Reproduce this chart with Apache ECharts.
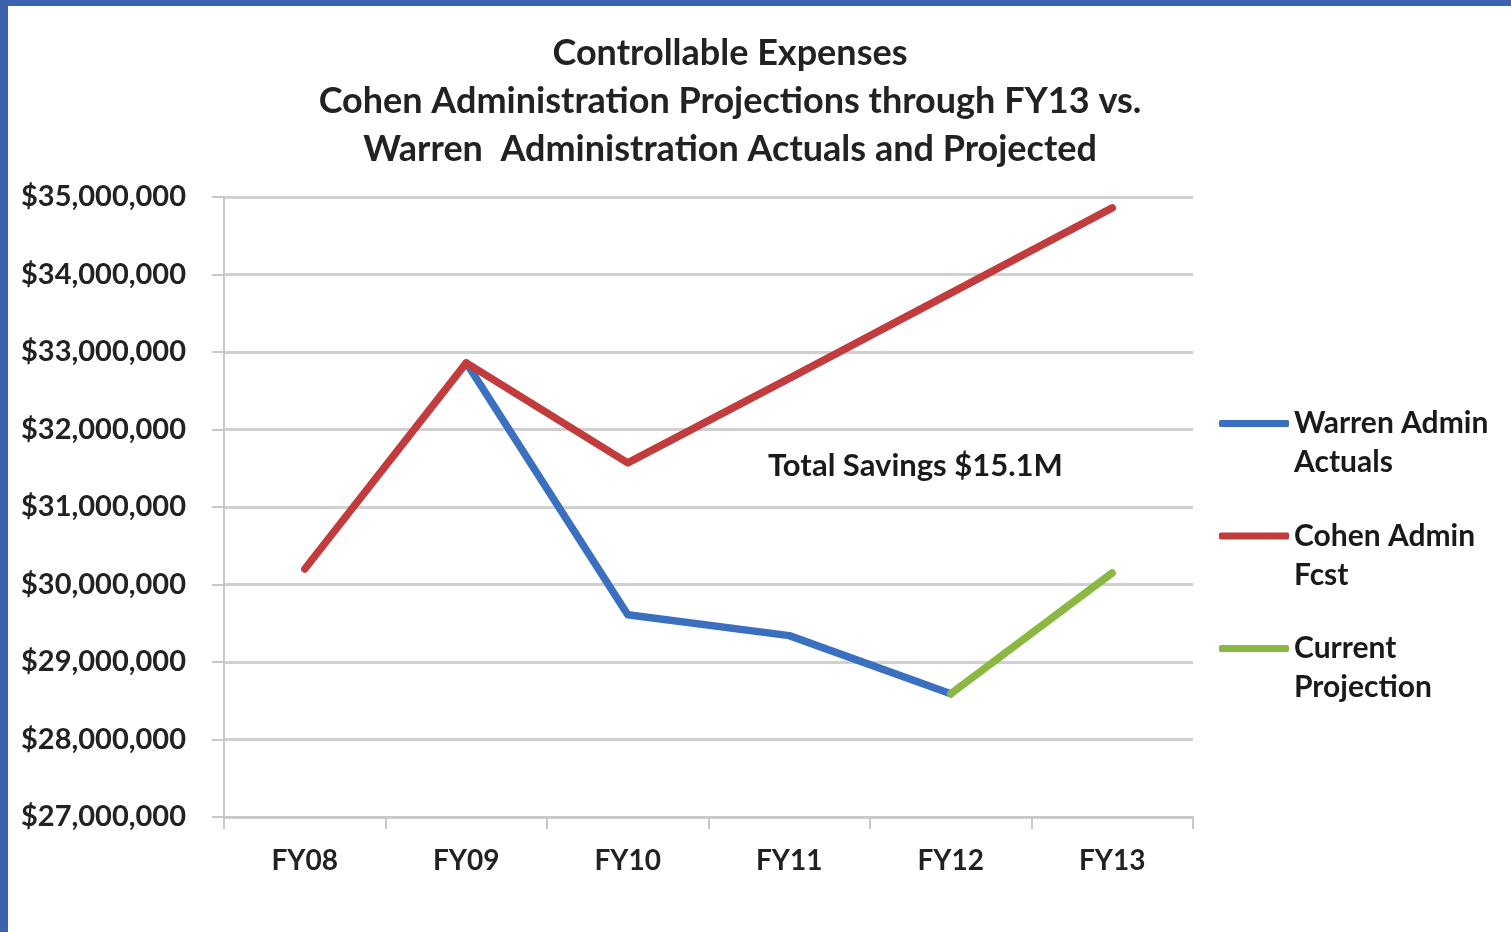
<!DOCTYPE html>
<html>
<head>
<meta charset="utf-8">
<script src="https://cdn.jsdelivr.net/npm/echarts@6/dist/echarts.min.js"></script>
<style>
  html, body { margin: 0; padding: 0; width: 1511px; height: 932px; overflow: hidden; background: #3a62ad; }
  #chart { position: absolute; left: 8px; top: 6px; width: 1503px; height: 926px; background: #ffffff; }
</style>
</head>
<body>
<div id="chart"></div>
<script>
const categories = ['FY08', 'FY09', 'FY10', 'FY11', 'FY12', 'FY13'];
const warrenActuals = [null, 32860000, 29610000, 29340000, 28590000, null];
const cohenFcst = [30200000, 32860000, 31570000, 32660000, 33760000, 34860000];
const currentProjection = [null, null, null, null, 28590000, 30150000];
const seriesNames = ['Warren Admin\nActuals', 'Cohen Admin\nFcst', 'Current\nProjection'];
const titleText = 'Controllable Expenses\nCohen Administration Projections through FY13 vs.\nWarren  Administration Actuals and Projected';
const annotationText = 'Total Savings $15.1M';
const yMin = 27000000, yMax = 35000000, yStep = 1000000;

const FONT = 'Lato';
const chart = echarts.init(document.getElementById('chart'));
const fmt = v => '$' + v.toLocaleString('en-US');

function lineSeries(name, data, color) {
  return {
    name: name, type: 'line', data: data, symbol: 'none', showSymbol: false,
    connectNulls: false,
    lineStyle: { color: color, width: 7.5, cap: 'round', join: 'round' },
    itemStyle: { color: color },
    emphasis: { disabled: true }
  };
}

chart.setOption({
  animation: false,
  backgroundColor: '#ffffff',
  title: {
    text: titleText,
    left: 717, top: 18,
    textAlign: 'center',
    textStyle: { fontFamily: FONT, fontWeight: 'bold', fontSize: 36, lineHeight: 48, color: '#222222' }
  },
  legend: {
    orient: 'vertical',
    left: 1206, top: 354,
    itemWidth: 70, itemHeight: 7,
    itemGap: -4.5,
    icon: 'roundRect',
    data: seriesNames,
    formatter: name => '\n' + name,
    textStyle: { fontFamily: FONT, fontWeight: 'bold', fontSize: 30, lineHeight: 39, color: '#1a1a1a' }
  },
  grid: { left: 216, top: 191, right: 318, bottom: 115, containLabel: false },
  xAxis: {
    type: 'category', data: categories, boundaryGap: true,
    axisLine: { show: true, lineStyle: { color: '#c8c8c8', width: 2 } },
    axisTick: { show: true, length: 12, alignWithLabel: false, lineStyle: { color: '#c8c8c8', width: 2 } },
    axisLabel: { margin: 30, fontFamily: FONT, fontWeight: 'bold', fontSize: 28, color: '#222222' }
  },
  yAxis: {
    type: 'value', min: yMin, max: yMax, interval: yStep,
    axisLine: { show: true, lineStyle: { color: '#c8c8c8', width: 2 } },
    axisTick: { show: true, length: 12, lineStyle: { color: '#c8c8c8', width: 2 } },
    splitLine: { show: true, lineStyle: { color: '#d0d0d0', width: 3 } },
    axisLabel: { margin: 38, formatter: fmt, fontFamily: FONT, fontWeight: 'bold', fontSize: 29, color: '#222222' }
  },
  graphic: [{
    type: 'text', left: 760, top: 444,
    style: { text: annotationText, fontFamily: FONT, fontWeight: 'bold', fontSize: 31, fill: '#1a1a1a' }
  }],
  series: [
    lineSeries(seriesNames[0], warrenActuals, '#3b6fc0'),
    lineSeries(seriesNames[1], cohenFcst, '#c23b3d'),
    lineSeries(seriesNames[2], currentProjection, '#8bb843')
  ]
});
</script>
</body>
</html>
